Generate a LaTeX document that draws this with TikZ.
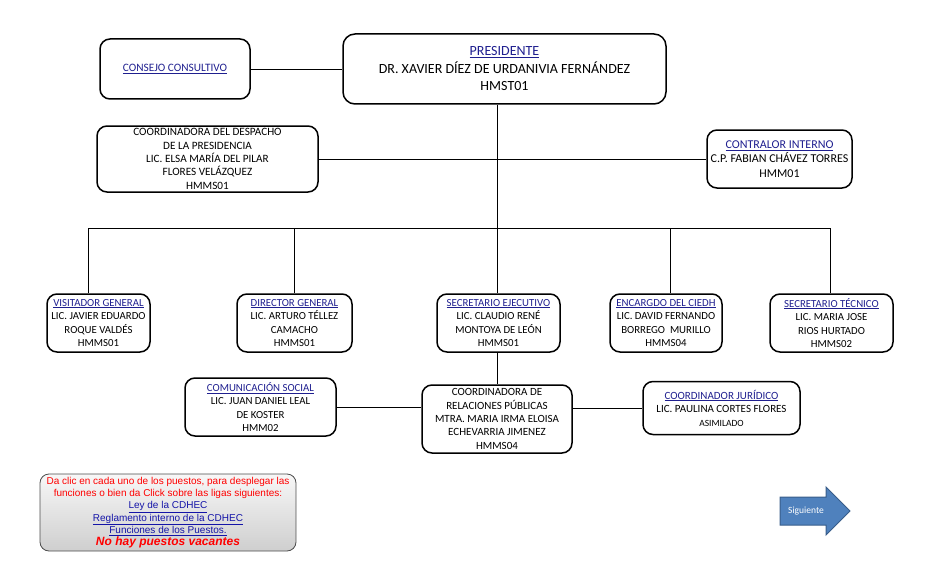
\documentclass[tikz,border=0pt]{standalone}
\usepackage{fontspec}
\setmainfont{Carlito}
\newfontfamily\arialf{Liberation Sans}
\definecolor{ttlblue}{HTML}{1F1F8F}
\definecolor{lnkblue}{HTML}{1414A8}
\definecolor{arrfill}{HTML}{4F81BD}
\definecolor{arrline}{HTML}{385D8A}
\newcommand{\titl}[1]{\textcolor{ttlblue}{\underline{#1}}}
\newcommand{\lnk}[1]{\textcolor{lnkblue}{\underline{#1}}}
\begin{document}
\begin{tikzpicture}[x=1pt,y=-1pt,
  box/.style={draw, line width=1.5pt, rounded corners=10pt, align=center, inner sep=0pt,
    font=\fontsize{10.8}{13.5}\selectfont},
  conn/.style={line width=0.9pt},
  notebox/.style={draw=black!70, line width=0.8pt, rounded corners=9pt, align=center, inner sep=0pt,
    top color=gray!6, bottom color=gray!38, font=\arialf\fontsize{10}{12.3}\selectfont},
  arrowshape/.style={draw=arrline, fill=arrfill, line width=1pt, line join=miter}]
\useasboundingbox (0,0) rectangle (936,567);
% top level
\node[box, minimum width=150pt, minimum height=60pt, font=\fontsize{11.3}{12}\selectfont] (cons) at (175,69) {\titl{CONSEJO CONSULTIVO}};
\node[box, rounded corners=12pt, minimum width=323pt, minimum height=70pt, font=\fontsize{14}{17.5}\selectfont] (pres) at (504.5,69) {\titl{PRESIDENTE}\\DR. XAVIER DÍEZ DE URDANIVIA FERNÁNDEZ\\HMST01};
\node[box, minimum width=221pt, minimum height=66pt, font=\fontsize{11.2}{13.3}\selectfont] (coord) at (207.5,159) {COORDINADORA DEL DESPACHO\\DE LA PRESIDENCIA\\LIC. ELSA MARÍA DEL PILAR\\FLORES VELÁZQUEZ\\HMMS01};
\node[box, minimum width=145pt, minimum height=58pt, font=\fontsize{12}{14.5}\selectfont] (contr) at (779.5,159) {\titl{CONTRALOR INTERNO}\\C.P. FABIAN CHÁVEZ TORRES\\HMM01};
% second row
\node[box, minimum width=103pt, minimum height=58pt] (visit) at (98.5,323) {\titl{VISITADOR GENERAL}\\LIC. JAVIER EDUARDO\\ROQUE VALDÉS\\HMMS01};
\node[box, minimum width=115pt, minimum height=58pt] (dir) at (294.5,323) {\titl{DIRECTOR GENERAL}\\LIC. ARTURO TÉLLEZ\\CAMACHO\\HMMS01};
\node[box, minimum width=123pt, minimum height=58pt] (secej) at (498.5,323) {\titl{SECRETARIO EJECUTIVO}\\LIC. CLAUDIO RENÉ\\MONTOYA DE LEÓN\\HMMS01};
\node[box, minimum width=112pt, minimum height=58pt] (enc) at (666,323) {\titl{ENCARGDO DEL CIEDH}\\LIC. DAVID FERNANDO\\BORREGO\ \ MURILLO\\HMMS04};
\node[box, minimum width=123pt, minimum height=58pt] (sect) at (831.5,323) {\titl{SECRETARIO TÉCNICO}\\LIC. MARIA JOSE\\RIOS HURTADO\\HMMS02};
% third row
\node[box, minimum width=151pt, minimum height=58pt] (coms) at (260.5,407) {\titl{COMUNICACIÓN SOCIAL}\\LIC. JUAN DANIEL LEAL\\DE KOSTER\\HMM02};
\node[box, minimum width=150pt, minimum height=68pt, font=\fontsize{11}{13.3}\selectfont] (rrpp) at (497,419) {COORDINADORA DE\\RELACIONES PÚBLICAS\\MTRA. MARIA IRMA ELOISA\\ECHEVARRIA JIMENEZ\\HMMS04};
\node[box, minimum width=157pt, minimum height=53pt, font=\fontsize{11}{13.5}\selectfont] (jur) at (721.5,408) {\titl{COORDINADOR JURÍDICO}\\LIC. PAULINA CORTES FLORES\\{\fontsize{9.5}{13}\selectfont ASIMILADO}};
% connectors
\draw[conn] (cons.east) -- (pres.west);
\coordinate (bus) at (497,228);
\coordinate (bL) at (88,228);
\coordinate (bR) at (830,228);
\coordinate (b4) at (670,228);
\draw[conn] (pres.south -| bus) -- (bus);
\draw[conn] (coord.east) -- (contr.west);
\draw[conn] (bL) -- (bR);
\draw[conn] (bL) -- (bL |- visit.north);
\draw[conn] (bus -| dir.north) -- (dir.north);
\draw[conn] (bus) -- (bus |- secej.north);
\draw[conn] (b4) -- (b4 |- enc.north);
\draw[conn] (bR) -- (bR |- sect.north);
\draw[conn] (secej.south -| rrpp.north) -- (rrpp.north);
\draw[conn] (coms.east) -- (coms.east -| rrpp.west);
\draw[conn] (rrpp.east |- jur.west) -- (jur.west);
% note
\node[notebox, minimum width=256pt, minimum height=77pt] (note) at (168,512.5)
  {\textcolor{red}{Da clic en cada uno de los puestos, para desplegar las}\\
   \textcolor{red}{funciones o bien da Click sobre las ligas siguientes:}\\
   \lnk{Ley de la CDHEC}\\
   \lnk{Reglamento interno de la CDHEC}\\
   \lnk{Funciones de los Puestos.}\\
   {\color{red}\bfseries\itshape\fontsize{12}{12.3}\selectfont No hay puestos vacantes}};
% next arrow
\draw[arrowshape] (780,497) -- (826,497) -- (826,487) -- (850,511) -- (826,535) -- (826,525) -- (780,525) -- cycle;
\node[text=white, font=\fontsize{9.5}{10}\selectfont] (sig) at (806,511) {Siguiente};
\end{tikzpicture}
\end{document}
